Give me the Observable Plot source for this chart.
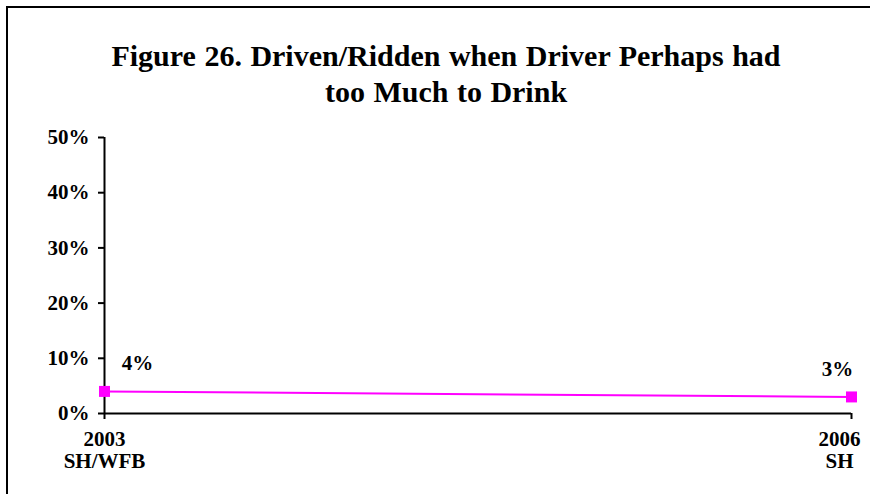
<!DOCTYPE html>
<html>
<head>
<meta charset="utf-8">
<script src="https://cdn.jsdelivr.net/npm/d3@7"></script>
<script src="https://cdn.jsdelivr.net/npm/@observablehq/plot@0.6"></script>
<style>
  html, body { margin: 0; padding: 0; background: #fff; }
  #wrap { position: relative; width: 870px; height: 494px; overflow: hidden; font-family: "Liberation Serif", "Times New Roman", serif; }
  #frame { position: absolute; left: 6px; top: 6px; width: 900px; height: 600px; border-top: 2px solid #000; border-left: 2px solid #000; box-sizing: border-box; pointer-events: none; }
  #title { position: absolute; left: 0; top: 0; width: 892px; height: 125px; box-sizing: border-box; padding-top: 38px; text-align: center; font-weight: bold; font-size: 30px; line-height: 36px; word-spacing: 1px; color: #000; }
  #chart { position: absolute; left: 0; top: 125px; }
</style>
</head>
<body>
<div id="wrap">
  <div id="frame"></div>
  <div id="title">Figure 26. Driven/Ridden when Driver Perhaps had<br>too Much to Drink</div>
  <div id="chart"></div>
</div>
<script>
const years = [2003, 2006];
const yearLabels = ["2003\nSH/WFB", "2006\nSH"];
const values = [4, 3];
const valueLabels = ["4%", "3%"];
const yTicks = [0, 10, 20, 30, 40, 50];

const data = years.map((y, i) => ({year: y, label: yearLabels[i], value: values[i], vlabel: valueLabels[i]}));

const font = {fontFamily: "Liberation Serif, Times New Roman, serif", fontWeight: "bold", fontSize: 21};

const chart = Plot.plot({
  width: 870,
  height: 369,
  marginTop: 12,
  marginBottom: 81,
  marginLeft: 104,
  marginRight: 19,
  style: {fontFamily: "Liberation Serif, Times New Roman, serif", fontWeight: "bold", fontSize: "21px", color: "#000", background: "transparent", overflow: "visible"},
  x: {type: "linear", domain: [2003, 2006]},
  y: {domain: [0, 50]},
  marks: [
    Plot.axisY({ticks: yTicks, tickSize: 6, tickPadding: 9, tickFormat: d => d + "%", label: null, strokeWidth: 2, fontSize: 21, fontWeight: "bold"}),
    Plot.axisX({ticks: years, tickSize: 6, tickFormat: () => "", label: null, strokeWidth: 2}),
    Plot.ruleX([2003], {y1: 0, y2: 50, stroke: "#000", strokeWidth: 2}),
    Plot.ruleY([0], {stroke: "#000", strokeWidth: 2}),
    Plot.line(data, {x: "year", y: "value", stroke: "#FF00FF", strokeWidth: 2}),
    Plot.dot(data, {x: "year", y: "value", symbol: "square", r: 6.2, fill: "#FF00FF", stroke: "none"}),
    Plot.text(data.filter(d => d.year === 2003), {x: "year", y: "value", text: "vlabel", dx: 33, dy: -28, ...font}),
    Plot.text(data.filter(d => d.year === 2006), {x: "year", y: "value", text: "vlabel", dx: -14, dy: -28, ...font}),
    Plot.text(data.filter(d => d.year === 2003), {x: "year", y: 0, text: "label", lineAnchor: "top", dy: 17, lineHeight: 1.05, ...font}),
    Plot.text(data.filter(d => d.year === 2006), {x: "year", y: 0, text: "label", lineAnchor: "top", dy: 17, dx: -12, lineHeight: 1.05, ...font})
  ]
});
document.getElementById("chart").appendChild(chart);
</script>
</body>
</html>
